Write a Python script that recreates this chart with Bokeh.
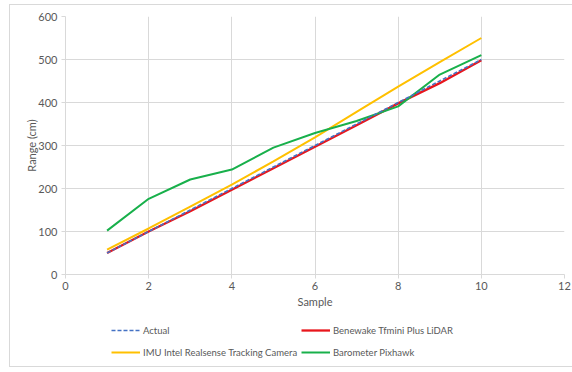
from bokeh.plotting import figure
from bokeh.layouts import column
from bokeh.models import Legend, LegendItem, FixedTicker
from bokeh.embed import file_html
from bokeh.resources import INLINE

sample = [1, 2, 3, 4, 5, 6, 7, 8, 9, 10]
actual = [50, 100, 150, 200, 250, 300, 350, 400, 450, 500]
lidar = [50, 100, 147, 197, 247, 297, 347, 398, 445, 498]
imu = [58, 107, 158, 209, 263, 319, 378, 437, 494, 550]
baro = [102, 176, 221, 244, 295, 329, 357, 391, 465, 510]

series_names = ["Actual", "Benewake Tfmini Plus LiDAR",
                "IMU Intel Realsense Tracking Camera", "Barometer Pixhawk"]
series_colors = ["#4472c4", "#e8161c", "#ffc000", "#18b04b"]

FONT = "Lato"
GRAY = "#595959"
GRID = "#d9d9d9"

p = figure(width=562, height=305, output_backend="svg", toolbar_location=None,
           x_range=(0, 12), y_range=(0, 600),
           min_border_left=55, min_border_right=8, min_border_top=11, min_border_bottom=36)
p.outline_line_color = None
p.background_fill_color = "white"
p.border_fill_color = "white"

p.xaxis.ticker = FixedTicker(ticks=[0, 2, 4, 6, 8, 10, 12])
p.yaxis.ticker = FixedTicker(ticks=[0, 100, 200, 300, 400, 500, 600])
for ax in (p.xaxis[0], p.yaxis[0]):
    ax.axis_line_color = GRID
    ax.major_tick_line_color = GRID
    ax.major_tick_in = 0
    ax.major_tick_out = 4
    ax.minor_tick_line_color = None
    ax.major_label_text_font = FONT
    ax.major_label_text_font_size = "11px"
    ax.major_label_text_color = GRAY
    ax.axis_label_text_font = FONT
    ax.axis_label_text_font_size = "11px"
    ax.axis_label_text_color = GRAY
    ax.axis_label_text_font_style = "normal"
p.xaxis.axis_label = "Sample"
p.yaxis.axis_label = "Range (cm)"
p.xaxis.major_label_standoff = 3
p.yaxis.major_label_standoff = 4
p.xaxis.axis_label_standoff = 2
p.yaxis.axis_label_standoff = -3
p.xgrid.grid_line_color = GRID
p.ygrid.grid_line_color = GRID

r_lidar = p.line(sample, lidar, line_color=series_colors[1], line_width=2.3)
r_imu = p.line(sample, imu, line_color=series_colors[2], line_width=2)
r_baro = p.line(sample, baro, line_color=series_colors[3], line_width=2)
r_actual = p.line(sample, actual, line_color=series_colors[0], line_width=1.6, line_dash="4 2")

# legend strip below the chart
lg = figure(width=562, height=56, output_backend="svg", toolbar_location=None,
            x_range=(0, 1), y_range=(0, 1),
            x_axis_location=None, y_axis_location=None,
            min_border_left=0, min_border_right=0, min_border_top=0, min_border_bottom=0)
lg.grid.visible = False
lg.outline_line_color = None
lg.background_fill_color = "white"
lg.border_fill_color = "white"

dashes = ["4 2", "solid", "solid", "solid"]
widths = [1.6, 2.3, 2, 2]
dummies = [lg.line([5, 6], [5, 6], line_color=c, line_width=w, line_dash=d)
           for c, d, w in zip(series_colors, dashes, widths)]

def make_legend(idx, x, y):
    items = [LegendItem(label=series_names[i], renderers=[dummies[i]]) for i in idx]
    leg = Legend(items=items, location=(x, y), orientation="vertical",
                 glyph_width=29, glyph_height=12, label_height=12, spacing=10,
                 label_standoff=3, padding=0, margin=0,
                 label_text_font=FONT, label_text_font_size="9.5px",
                 label_text_color=GRAY, border_line_color=None,
                 background_fill_alpha=0)
    lg.add_layout(leg, "center")

make_legend([0, 2], 46, 8)
make_legend([1, 3], 236, 8)

layout = column(p, lg, spacing=0,
                styles={"margin-left": "9px", "margin-top": "4px",
                        "border-left": "1px solid #d9d9d9",
                        "border-top": "1px solid #d9d9d9",
                        "border-bottom": "1px solid #d9d9d9"})

open("out.html", "w").write(file_html(layout, INLINE))
